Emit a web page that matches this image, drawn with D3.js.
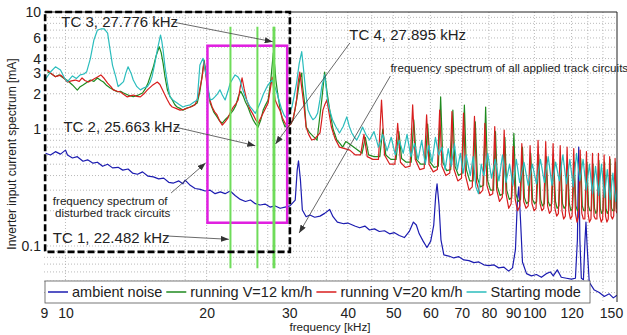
<!DOCTYPE html>
<html>
<head>
<meta charset="utf-8">
<script src="https://cdn.jsdelivr.net/npm/d3@7"></script>
<style>
  body { margin: 0; background: #fff; }
  text { font-family: "Liberation Sans", Arial, sans-serif; fill: #222; }
</style>
</head>
<body>
<svg id="chart" width="627" height="335"></svg>
<script>
// axis ticks and grid
const xTicks = [9, 10, 20, 30, 40, 50, 60, 70, 80, 90, 100, 120, 150];
const yTicks = [0.1, 1, 2, 3, 4, 6, 10];
const xGrid = [10, 18, 20, 27, 30, 36, 40, 45, 50, 54, 60, 70, 80, 90, 100, 110, 120, 130, 140];
const yGrid = [0.04, 0.05, 0.06, 0.07, 0.08, 0.09, 0.1, 0.2, 0.3, 0.4, 0.5, 0.6, 0.7, 0.8, 0.9,
               1, 2, 3, 4, 5, 6, 7, 8, 9];

// [frequency kHz, current mA]
const ambientNoise = [
  [9.07,0.62],[9.29,0.60],[9.52,0.64],[9.76,0.61],[10.0,0.66],[10.1,0.60],[10.35,0.565],[10.6,0.58],
  [10.9,0.53],[11.15,0.545],[11.45,0.51],[11.7,0.52],[12.0,0.48],[12.3,0.50],[12.6,0.465],[12.95,0.47],
  [13.25,0.445],[13.6,0.455],[13.9,0.42],[14.25,0.41],[14.6,0.43],[15.0,0.395],[15.4,0.39],[15.8,0.375],
  [16.2,0.38],[16.6,0.35],[17.0,0.345],[17.45,0.36],[17.8,0.34],[18.0,0.366],[18.45,0.33],[18.9,0.31],
  [19.4,0.305],[19.85,0.295],[20.35,0.30],[20.85,0.28],[21.4,0.29],[21.9,0.28],[22.45,0.295],[23.0,0.27],
  [23.6,0.25],[24.2,0.24],[24.8,0.247],[25.4,0.23],[26.0,0.224],[26.65,0.228],[27.3,0.215],[28.0,0.22],
  [28.7,0.21],[29.4,0.215],[30.1,0.22],[30.9,0.247],[31.2,0.445],[31.4,0.535],[31.7,0.366],[32.0,0.203],
  [32.6,0.178],[33.2,0.184],[34.0,0.176],[34.9,0.18],[35.7,0.19],[36.6,0.205],[37.2,0.178],[38.0,0.16],
  [39.2,0.155],[40.0,0.157],[41.4,0.148],[42.4,0.143],[43.5,0.148],[44.5,0.137],[45.6,0.14],[46.7,0.133],
  [47.9,0.135],[49.1,0.127],[50.3,0.13],[51.5,0.123],[52.8,0.118],[54.1,0.133],[55.2,0.16],[56.0,0.151],
  [56.8,0.127],[57.9,0.11],[59.0,0.097],[60.1,0.11],[61.0,0.151],[61.6,0.272],[62.0,0.34],[62.6,0.224],
  [63.2,0.113],[64.1,0.084],[65.7,0.082],[67.3,0.079],[69.0,0.081],[70.7,0.076],[72.5,0.075],[74.3,0.072],
  [76.1,0.073],[78.0,0.069],[79.9,0.068],[81.9,0.069],[83.9,0.065],[86.0,0.066],[88.1,0.061],[89.8,0.065],
  [91.1,0.093],[92.0,0.247],[92.6,0.32],[93.4,0.167],[94.3,0.073],[96.2,0.058],[98.5,0.0555],[101,0.057],
  [103.5,0.054],[106,0.058],[108.1,0.06],[109.7,0.0555],[111.9,0.0625],[114.1,0.054],[117,0.053],
  [119.9,0.052],[122.3,0.053],[123.5,0.113],[124.3,0.7],[125.0,0.113],[125.9,0.053],[127.2,0.0515],
  [128.2,0.113],[128.8,0.16],[129.5,0.102],[130.9,0.049],[134.2,0.042],[137.5,0.04],[140.9,0.037],
  [144.4,0.039],[147.3,0.036],[150,0.038]
];

const running12 = [
  [9.15,3.09],[9.35,2.95],[9.52,2.80],[9.7,2.9],[9.9,2.73],[10.1,2.6],[10.35,2.38],[10.6,2.15],[10.75,2.3],
  [10.9,2.38],[11.1,2.5],[11.3,2.62],[11.5,2.55],[11.7,2.73],[11.9,2.6],[12.05,2.52],[12.25,2.35],[12.46,2.24],
  [12.7,2.15],[12.9,2.08],[13.1,2.1],[13.3,2.03],[13.6,1.95],[13.95,1.89],[14.3,1.95],[14.6,2.03],[14.8,2.2],
  [15.0,2.47],[15.2,2.9],[15.4,3.4],[15.6,4.2],[15.85,5.05],[16.0,4.5],[16.15,3.66],[16.3,2.8],[16.5,2.15],
  [16.7,1.9],[16.9,1.77],[17.1,1.62],[17.3,1.54],[17.55,1.5],[17.8,1.45],[18.1,1.5],[18.45,1.54],[18.8,1.6],
  [19.1,1.67],[19.35,2.1],[19.55,2.80],[19.75,3.89],[19.9,3.2],[20.05,2.47],[20.2,2.0],[20.35,1.67],[20.7,1.4],
  [21.05,1.27],[21.3,1.18],[21.6,1.12],[21.9,1.2],[22.2,1.27],[22.5,1.35],[22.8,1.45],[23.1,1.6],[23.35,1.88],
  [23.65,2.1],[23.95,1.9],[24.2,1.7],[24.5,1.54],[24.8,1.35],[25.15,1.19],[25.45,1.1],[25.75,1.04],[26.1,1.2],
  [26.4,1.45],[26.7,1.6],[27.05,1.77],[27.4,2.6],[27.75,4.47],[27.95,3.4],[28.1,2.62],[28.4,1.9],[28.65,1.54],
  [29.0,1.2],[29.4,1.04],[29.8,1.12],[30.2,1.1],[30.55,1.19],[30.9,1.5],[31.3,2.03],[31.6,2.7],[31.9,3.01],
  [32.0,2.4],[32.3,1.77],[32.6,1.04],[33.2,0.925],[33.8,0.86],[34.4,0.805],[34.8,1.2],[35.2,1.77],[35.7,3.07],
  [36.1,2.1],[36.6,1.45],[37.2,1.0],[37.9,0.805],[38.5,0.75],[39.0,0.70],[39.6,0.78],[40.2,0.75],
  [42.9,0.62],[43.6,0.85],[44.3,0.6],[45.5,0.58],[46.8,0.58],[47.5,1.0],[48.2,0.6],[49.4,0.55],
  [50.7,0.55],[51.4,0.95],[52.1,0.56],[53.3,0.52],[54.6,0.52],[55.3,1.2],[56.0,0.55],[57.2,0.5],
  [58.5,0.5],[59.2,1.1],[59.9,0.52],[61.1,0.47],[62.4,0.48],[63.1,1.88],[63.8,0.52],[65.0,0.44],
  [66.3,0.45],[67.0,1.45],[67.7,0.48],[68.9,0.4],[70.2,0.42],[70.9,1.6],[71.6,0.45],[72.8,0.36],
  [74.0,0.36],[74.8,1.15],[75.6,0.38],[76.7,0.32],[77.9,0.33],[78.7,1.54],[79.5,0.36],[80.6,0.3],
  [81.8,0.3],[82.6,0.95],[83.4,0.32],[84.5,0.27],[85.7,0.28],[86.5,0.85],[87.3,0.3],[88.4,0.25],
  [89.5,0.26],[90.4,0.92],[91.3,0.28],[92.3,0.24],[93.4,0.25],[94.3,0.7],[95.2,0.26],[96.2,0.23],
  [97.3,0.24],[98.2,0.62],[99.1,0.25],[100.1,0.23],[101.1,0.24],[102.1,0.6],[103.1,0.25],[104.0,0.22],
  [105.0,0.23],[106.0,0.58],[107.0,0.24],[107.9,0.22],[108.9,0.23],[109.9,0.55],[110.9,0.24],[111.8,0.21],
  [112.8,0.22],[113.8,0.52],[114.8,0.23],[115.7,0.21],[116.7,0.22],[117.7,0.5],[118.7,0.23],[119.6,0.2],
  [120.6,0.21],[121.6,0.52],[122.6,0.22],[123.5,0.2],[124.5,0.21],[125.5,0.56],[126.5,0.22],[127.4,0.2],
  [128.4,0.2],[129.4,0.52],[130.4,0.22],[131.3,0.2],[132.3,0.2],[133.3,0.5],[134.3,0.21],[135.2,0.19],
  [136.2,0.2],[137.2,0.54],[138.2,0.21],[139.1,0.19],[140.1,0.2],[141.1,0.52],[142.1,0.21],[143.0,0.19],
  [144.0,0.2],[145.0,0.55],[146.0,0.21],[146.9,0.2],[147.9,0.2],[148.9,0.52],[149.6,0.21],[150,0.22]
];

const running20 = [
  [9.15,3.19],[9.35,2.95],[9.52,2.80],[9.76,2.89],[9.95,2.7],[10.1,2.52],[10.3,2.58],[10.5,2.62],[10.7,2.55],
  [10.85,2.73],[11.0,2.6],[11.2,2.52],[11.45,2.65],[11.7,2.78],[11.9,2.90],[12.1,2.7],[12.3,2.47],[12.5,2.3],
  [12.65,2.16],[12.9,2.1],[13.1,2.07],[13.3,1.98],[13.55,1.88],[13.75,1.92],[13.95,1.95],[14.2,1.9],[14.45,1.88],
  [14.7,2.0],[14.95,2.16],[15.3,2.35],[15.7,2.52],[15.9,2.4],[16.1,2.16],[16.3,1.95],[16.5,1.77],[16.7,1.62],
  [16.9,1.54],[17.2,1.5],[17.55,1.45],[17.9,1.47],[18.2,1.51],[18.55,1.55],[18.9,1.61],[19.2,1.9],[19.55,2.73],
  [19.75,3.74],[19.9,3.0],[20.05,2.29],[20.3,1.8],[20.55,1.54],[20.8,1.4],[21.05,1.32],[21.3,1.18],[21.6,1.08],
  [21.9,1.15],[22.2,1.24],[22.5,1.4],[22.8,1.54],[23.1,1.65],[23.35,1.77],[23.6,2.3],[23.8,2.73],[24.05,2.2],
  [24.35,1.77],[24.7,1.5],[25.15,1.32],[25.45,1.2],[25.75,1.12],[26.1,1.25],[26.4,1.37],[26.7,1.5],[27.05,1.67],
  [27.35,2.2],[27.6,2.78],[27.8,2.2],[28.0,1.77],[28.3,1.6],[28.65,1.45],[29.0,1.25],[29.4,1.12],[29.8,1.04],
  [30.2,1.1],[30.55,1.2],[30.85,1.45],[31.1,1.77],[31.35,2.5],[31.6,3.07],[31.8,2.5],[32.0,2.03],[32.3,1.5],
  [32.6,1.04],[33.0,0.9],[33.5,0.805],[34.0,0.82],[34.5,0.88],[34.9,0.925],[35.2,1.2],[35.4,1.45],[35.7,1.6],
  [36.1,1.77],[36.5,1.35],[36.9,1.04],[37.6,0.82],[38.4,0.70],[39.4,0.68],[40.4,0.66],[41.5,0.6],
  [42.6,0.6],[43.3,0.9],[44.0,0.58],[45.25,0.55],[46.5,0.55],[47.2,1.77],[47.9,0.6],[49.15,0.5],
  [50.4,0.5],[51.1,1.12],[51.8,0.52],[53.05,0.47],[54.3,0.48],[55.0,1.61],[55.7,0.55],[56.95,0.45],
  [58.2,0.46],[58.9,1.32],[59.6,0.5],[60.85,0.43],[62.1,0.45],[62.8,1.45],[63.5,0.48],[64.75,0.4],
  [66.0,0.42],[66.7,1.41],[67.4,0.45],[68.65,0.36],[69.9,0.38],[70.6,1.37],[71.3,0.4],[72.55,0.3],
  [73.7,0.32],[74.5,1.28],[75.3,0.35],[76.45,0.28],[77.6,0.3],[78.4,1.12],[79.2,0.33],[80.35,0.27],
  [81.5,0.28],[82.3,1.05],[83.1,0.3],[84.25,0.24],[85.4,0.26],[86.2,0.98],[87.0,0.28],[88.15,0.21],
  [89.2,0.23],[90.1,0.71],[91.0,0.25],[92.05,0.2],[93.1,0.22],[94.0,0.75],[94.9,0.24],[95.95,0.21],
  [97.0,0.22],[97.9,0.72],[98.8,0.23],[99.85,0.2],[100.8,0.21],[101.8,0.8],[102.8,0.23],[103.75,0.2],
  [104.7,0.21],[105.7,0.78],[106.7,0.22],[107.65,0.19],[108.6,0.2],[109.6,0.75],[110.6,0.21],[111.55,0.18],
  [112.5,0.19],[113.5,0.72],[114.5,0.2],[115.45,0.17],[116.4,0.18],[117.4,0.7],[118.4,0.2],[119.35,0.17],
  [120.3,0.18],[121.3,0.68],[122.3,0.19],[123.25,0.16],[124.2,0.18],[125.2,0.66],[126.2,0.19],[127.15,0.17],
  [128.1,0.17],[129.1,0.64],[130.1,0.19],[131.05,0.16],[132.0,0.17],[133.0,0.62],[134.0,0.18],[134.95,0.17],
  [135.9,0.17],[136.9,0.62],[137.9,0.18],[138.85,0.16],[139.8,0.17],[140.8,0.6],[141.8,0.18],[142.75,0.16],
  [143.7,0.17],[144.7,0.58],[145.7,0.18],[146.65,0.17],[147.6,0.18],[148.6,0.56],[149.4,0.2],[150,0.19]
];

const startingMode = [
  [9.07,2.67],[9.29,3.07],[9.52,3.40],[9.76,3.19],[9.95,2.73],[10.1,2.54],[10.35,2.84],[10.55,2.7],[10.75,2.90],
  [10.95,2.95],[11.1,3.09],[11.3,4.0],[11.5,5.77],[11.7,7.01],[11.9,7.16],[12.1,7.16],[12.3,6.6],[12.45,4.74],
  [12.6,3.5],[12.8,2.80],[12.95,2.30],[13.1,2.4],[13.3,2.54],[13.45,3.0],[13.6,3.40],[13.8,3.0],[13.95,2.62],
  [14.2,2.3],[14.45,2.16],[14.7,2.25],[14.95,2.30],[15.15,2.5],[15.3,2.80],[15.5,3.6],[15.7,4.74],[15.95,6.36],
  [16.05,5.6],[16.15,4.74],[16.3,3.4],[16.5,2.47],[16.7,1.89],[17.0,1.75],[17.3,1.67],[17.55,1.6],[17.8,1.54],
  [18.1,1.58],[18.45,1.61],[18.8,1.7],[19.1,1.77],[19.35,3.53],[19.65,4.02],[19.85,3.2],[20.05,2.62],[20.2,2.1],
  [20.35,1.77],[20.6,1.8],[20.85,1.89],[21.1,2.0],[21.35,2.16],[21.6,1.95],[21.9,1.77],[22.2,2.1],[22.45,2.46],
  [22.75,2.7],[23.0,2.90],[23.3,2.8],[23.55,2.62],[23.85,2.2],[24.15,1.89],[24.45,1.7],[24.75,1.55],[25.1,1.45],
  [25.4,1.36],[25.7,1.5],[26.0,1.67],[26.45,2.0],[26.9,2.30],[27.3,2.5],[27.6,2.62],[27.95,2.3],[28.25,2.03],
  [28.6,1.7],[28.95,1.45],[29.3,1.3],[29.6,1.24],[30.0,1.35],[30.4,1.54],[30.8,2.0],[31.1,2.47],[31.5,3.6],
  [31.9,4.58],[32.1,3.6],[32.4,2.47],[32.6,1.9],[32.9,1.45],[33.3,1.3],[33.7,1.2],[34.1,1.25],[34.5,1.37],
  [34.9,1.8],[35.2,2.29],[35.7,2.90],[35.95,2.3],[36.2,1.77],[36.6,1.45],[37.1,1.2],[37.7,1.05],[38.4,0.925],
  [39.1,1.05],[39.8,1.27],[40.3,1.05],[40.8,0.925],[41.3,0.85],[41.8,0.805],[42.4,0.9],[43.0,1.04],[43.7,0.9],
  [44.5,0.805],[45.5,0.95],[46.5,0.7],[47.5,0.9],[48.5,0.65],[49.5,0.85],[50.5,0.6],[51.5,0.8],[52.5,0.62],
  [53.5,0.9],[54.5,0.58],[55.5,0.75],[56.5,0.55],[57.5,0.8],[58.5,0.5],[59.5,0.72],[60.5,0.52],[61.5,0.85],
  [62.5,0.6],[63.5,0.7],[64.5,0.45],[65.5,0.68],[66.5,0.48],[67.5,0.75],[68.5,0.45],[69.5,0.62],[70.5,0.42],
  [71.5,0.6],[73,0.4],[74,0.58],[75,0.32],[76,0.28],[77,0.5],[78,0.4],[79.5,0.62],[81,0.38],[82.5,0.55],
  [84,0.36],[85.5,0.6],[87,0.35],[88.5,0.5],[90,0.33],[91.5,0.55],[93,0.35],[95,0.52],[97,0.33],[99,0.5],
  [101,0.34],[103,0.55],[105,0.35],[107,0.58],[109,0.33],[111,0.52],[113,0.36],[115,0.6],[117,0.34],[119,0.55],
  [121,0.32],[123,0.62],[125,0.36],[127,0.55],[129,0.3],[131,0.5],[133,0.28],[135,0.48],[137,0.27],[139,0.5],
  [141,0.26],[143,0.45],[145,0.25],[147,0.42],[149,0.24],[150,0.3]
];

const seriesNames = ['ambient noise', 'running V=12 km/h', 'running V=20 km/h', 'Starting mode'];
const seriesColors = ['#1c1cb0', '#1f8a1f', '#d81e1e', '#2bbdbd'];

// track circuit carrier frequencies [kHz]
const tcFreqs = [22.482, 25.663, 27.776, 27.895];
const tcSpan = [0.0645, 7.48];
const dashedBox = { f: [9.05, 30.1], v: [0.089, 10] };
const magentaBox = { f: [20.08, 29.7], v: [0.158, 5.15] };

const labels = [
  { text: 'TC 3, 27.776 kHz', f: 9.8, v: 8.26, size: 15 },
  { text: 'TC 2, 25.663 kHz', f: 9.9, v: 1.05, size: 15 },
  { text: 'TC 1, 22.482 kHz', f: 9.4, v: 0.1186, size: 15 },
  { text: 'TC 4, 27.895 kHz', f: 40.3, v: 6.36, size: 15 },
  { text: 'frequency spectrum of all applied track circuits', f: 49.3, v: 3.3, size: 11.6 },
  { text: 'frequency spectrum of', f: 9.4, v: 0.244, size: 11.6 },
  { text: 'disturbed track circuits', f: 9.5, v: 0.19, size: 11.6 }
];
const arrows = [
  { from: [16.97, 8.2], to: [27.66, 5.57] },
  { from: [17.1, 1.04], to: [25.4, 0.72] },
  { from: [16.3, 0.122], to: [22.3, 0.114] },
  { from: [40.4, 5.43], to: [28.05, 0.744] },
  { from: [49.3, 2.84], to: [31.5, 0.129] },
  { from: [16.8, 0.284], to: [19.9, 0.512] }
];

const svg = d3.select('#chart');
const plotLeft = 44, plotRight = 617, plotTop = 12, plotBottom = 302;

const x = d3.scaleLog().domain([9, 150]).range([plotLeft, plotRight]);
const y = d3.scaleLog().domain([0.0332, 10]).range([plotBottom, plotTop]);

svg.append('rect').attr('width', 627).attr('height', 335).attr('fill', '#fff');

const defs = svg.append('defs');
defs.append('clipPath').attr('id', 'plot')
  .append('rect').attr('x', plotLeft).attr('y', plotTop)
  .attr('width', plotRight - plotLeft).attr('height', plotBottom - plotTop);
defs.append('marker')
  .attr('id', 'arrow')
  .attr('viewBox', '0 0 8 6')
  .attr('refX', 8).attr('refY', 3)
  .attr('markerWidth', 8).attr('markerHeight', 6)
  .attr('markerUnits', 'userSpaceOnUse')
  .attr('orient', 'auto')
  .append('path').attr('d', 'M0,0L8,3L0,6Z').attr('fill', '#333');

// grid
const grid = svg.append('g').attr('stroke', '#a8a8a8').attr('stroke-width', 0.8).attr('stroke-dasharray', '1,2');
grid.selectAll('line.gx').data(xGrid).enter().append('line')
  .attr('x1', d => x(d)).attr('x2', d => x(d)).attr('y1', plotTop).attr('y2', plotBottom);
grid.selectAll('line.gy').data(yGrid).enter().append('line')
  .attr('y1', d => y(d)).attr('y2', d => y(d)).attr('x1', plotLeft).attr('x2', plotRight);

// spectra
const line = d3.line().x(d => x(d[0])).y(d => y(d[1]));
const plot = svg.append('g').attr('clip-path', 'url(#plot)');
[ambientNoise, running12, running20, startingMode].forEach((s, i) => {
  plot.append('path')
    .attr('d', line(s))
    .attr('fill', 'none')
    .attr('stroke', seriesColors[i])
    .attr('stroke-width', 1.2)
    .attr('stroke-linejoin', 'round');
});

// plot frame (top and right)
svg.append('path')
  .attr('d', `M${plotLeft},${plotTop}H${plotRight}V${plotBottom}`)
  .attr('fill', 'none').attr('stroke', '#222').attr('stroke-width', 1);

// magenta box
svg.append('rect')
  .attr('x', x(magentaBox.f[0])).attr('y', y(magentaBox.v[1]))
  .attr('width', x(magentaBox.f[1]) - x(magentaBox.f[0]))
  .attr('height', y(magentaBox.v[0]) - y(magentaBox.v[1]))
  .attr('fill', 'none').attr('stroke', '#e01fe0').attr('stroke-width', 2.5);

// track circuit lines
svg.selectAll('line.tc').data(tcFreqs).enter().append('line')
  .attr('x1', d => x(d)).attr('x2', d => x(d))
  .attr('y1', y(tcSpan[0])).attr('y2', y(tcSpan[1]))
  .attr('stroke', '#6fdc5a').attr('stroke-width', 2);

// dashed box
svg.append('rect')
  .attr('x', x(dashedBox.f[0])).attr('y', y(dashedBox.v[1]))
  .attr('width', x(dashedBox.f[1]) - x(dashedBox.f[0]))
  .attr('height', y(dashedBox.v[0]) - y(dashedBox.v[1]))
  .attr('fill', 'none').attr('stroke', '#000').attr('stroke-width', 2.6)
  .attr('stroke-dasharray', '7,3');

// annotations
svg.selectAll('text.note').data(labels).enter().append('text')
  .attr('x', d => x(d.f)).attr('y', d => y(d.v))
  .attr('dy', '0.35em')
  .style('font-size', d => d.size + 'px')
  .text(d => d.text);

svg.selectAll('line.arrow').data(arrows).enter().append('line')
  .attr('x1', d => x(d.from[0])).attr('y1', d => y(d.from[1]))
  .attr('x2', d => x(d.to[0])).attr('y2', d => y(d.to[1]))
  .attr('stroke', '#444').attr('stroke-width', 0.8)
  .attr('marker-end', 'url(#arrow)');

// axes labels
const xAxis = svg.append('g').attr('transform', `translate(0,${plotBottom})`)
  .call(d3.axisBottom(x).tickValues(xTicks).tickFormat(d3.format('d')).tickSize(0).tickPadding(6));
xAxis.select('.domain').remove();
xAxis.selectAll('text').style('font-size', '14px').attr('fill', '#222');
// last label sits just inside the page edge, as in the original
xAxis.selectAll('.tick').filter(d => d === 150).select('text').attr('dx', -6);

const yAxis = svg.append('g').attr('transform', `translate(${plotLeft},0)`)
  .call(d3.axisLeft(y).tickValues(yTicks).tickFormat(d => d < 1 ? '0.1' : d3.format('d')(d)).tickSize(0).tickPadding(3));
yAxis.select('.domain').remove();
yAxis.selectAll('text').style('font-size', '14px').attr('fill', '#222');

svg.append('text')
  .attr('transform', 'translate(16,154) rotate(-90)')
  .attr('text-anchor', 'middle')
  .style('font-size', '12px')
  .text('Inverter input current spectrum [mA]');

svg.append('text')
  .attr('x', 330).attr('y', 331)
  .attr('text-anchor', 'middle')
  .style('font-size', '11.7px')
  .text('frequency [kHz]');

// legend
const legend = svg.append('g');
legend.append('rect')
  .attr('x', 45).attr('y', 281).attr('width', 545).attr('height', 22)
  .attr('fill', '#fff').attr('stroke', '#555').attr('stroke-width', 0.8);
let lx = 48;
seriesNames.forEach((name, i) => {
  legend.append('line')
    .attr('x1', lx).attr('x2', lx + 20).attr('y1', 292).attr('y2', 292)
    .attr('stroke', seriesColors[i]).attr('stroke-width', 1.5);
  const t = legend.append('text')
    .attr('x', lx + 24).attr('y', 292).attr('dy', '0.35em')
    .style('font-size', '14.5px')
    .text(name);
  lx += 24 + t.node().getComputedTextLength() + 4;
});
</script>
</body>
</html>
